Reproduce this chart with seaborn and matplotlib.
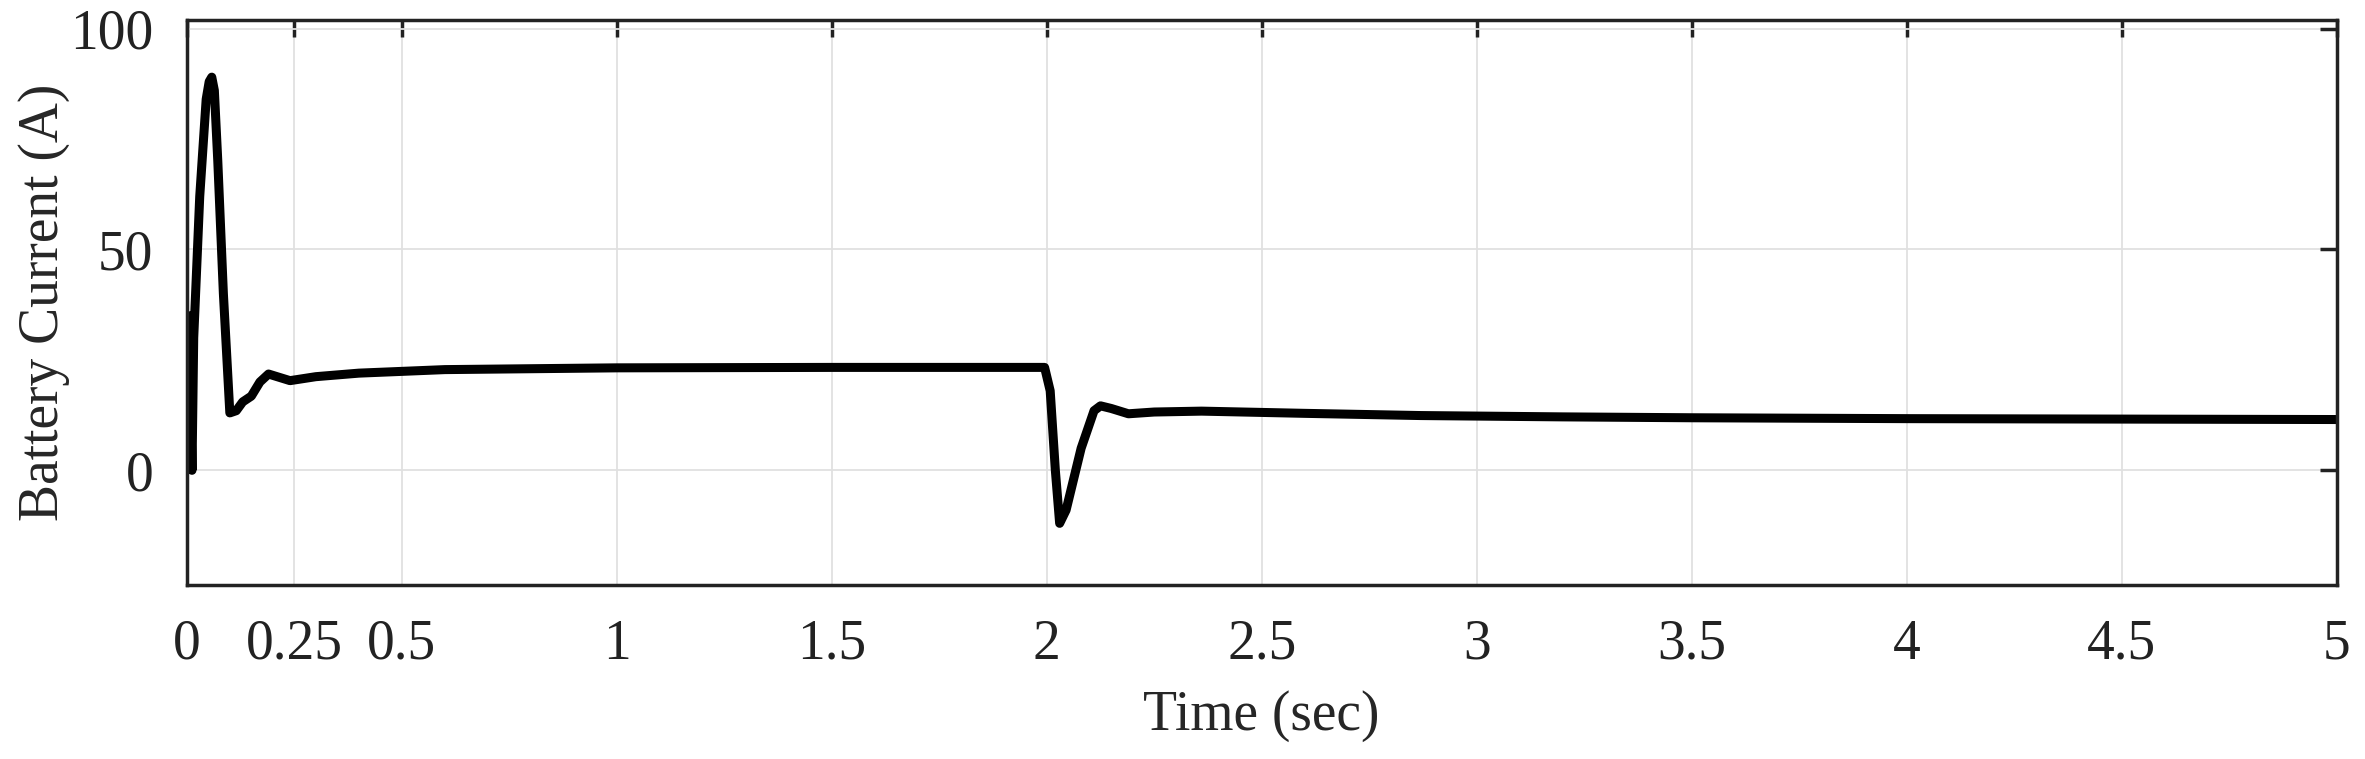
import numpy as np
import pandas as pd
import matplotlib
matplotlib.use("Agg")
import matplotlib.pyplot as plt
import seaborn as sns

# battery current samples (time in s, current in A)
time_s = [0.0, 0.005, 0.012, 0.016, 0.03, 0.045, 0.052, 0.058, 0.064, 0.072,
          0.085, 0.1, 0.115, 0.13, 0.15, 0.17, 0.19, 0.21, 0.24, 0.3, 0.4,
          0.6, 1.0, 1.5, 1.995, 2.008, 2.02, 2.03, 2.045, 2.08, 2.11, 2.125,
          2.15, 2.19, 2.25, 2.36, 2.6, 2.87, 3.2, 3.5, 4.0, 4.5, 5.0]
current_a = [0.0, 35.0, 0.0, 30.0, 62.0, 84.0, 88.0, 89.0, 86.0, 70.0,
             40.0, 13.0, 13.5, 15.5, 16.8, 20.0, 21.8, 21.2, 20.3, 21.2, 22.0,
             22.8, 23.2, 23.3, 23.3, 18.0, 0.0, -12.0, -9.0, 5.0, 13.5, 14.6,
             14.0, 12.8, 13.2, 13.4, 12.9, 12.4, 12.1, 11.9, 11.7, 11.6, 11.5]

xticks = [0, 0.25, 0.5, 1, 1.5, 2, 2.5, 3, 3.5, 4, 4.5, 5]
xtick_labels = ["0", "0.25", "0.5", "1", "1.5", "2", "2.5", "3", "3.5", "4", "4.5", "5"]
yticks = [0, 50, 100]

df = pd.DataFrame({"Time": time_s, "Current": current_a})

sns.set_style("white")
plt.rcParams["font.family"] = ["Liberation Serif", "DejaVu Serif"]
plt.rcParams["font.size"] = 40

fig = plt.figure(figsize=(23.65, 7.59), dpi=100)
ax = fig.add_axes([0.079, 0.229, 0.909, 0.745])

sns.lineplot(data=df, x="Time", y="Current", ax=ax, color="black",
             linewidth=6.5, sort=False, estimator=None)

ax.set_xlim(0, 5)
ax.set_ylim(-26, 102)
ax.set_xticks(xticks)
ax.set_xticklabels(xtick_labels)
ax.set_yticks(yticks)
ax.grid(True, color="#e0e0e0", linewidth=1.3)
ax.tick_params(direction="in", length=12, width=2.5, top=True, right=True,
               labelsize=40, pad=24, colors="#222222")
for s in ax.spines.values():
    s.set_linewidth(2.5)
    s.set_color("#222222")

ax.set_xlabel("Time (sec)", fontsize=40, labelpad=14)
ax.set_ylabel("Battery Current (A)", fontsize=40, labelpad=0)

fig.savefig("out.png", dpi=100)
